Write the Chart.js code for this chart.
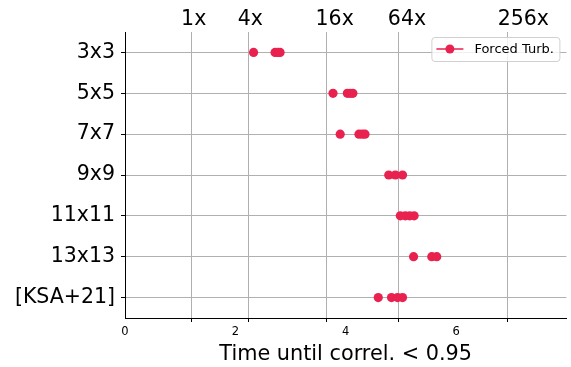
<!DOCTYPE html>
<html>
<head>
<meta charset="utf-8">
<script src="https://cdn.jsdelivr.net/npm/chart.js@4.4.1/dist/chart.umd.min.js"></script>
<style>
  html, body { margin: 0; padding: 0; background: #fff; }
  #wrap { width: 571px; height: 367px; position: relative; }
</style>
</head>
<body>
<div id="wrap"><canvas id="chart"></canvas></div>
<script>
// Row labels (top to bottom)
const rowLabels = ["3x3", "5x5", "7x7", "9x9", "11x11", "13x13", "[KSA+21]"];

// Time until correl. < 0.95, one array per row
const times3x3 = [2.33, 2.72, 2.77, 2.81];
const times5x5 = [3.77, 4.03, 4.08, 4.13];
const times7x7 = [3.90, 4.24, 4.30, 4.35];
const times9x9 = [4.78, 4.90, 5.03];
const times11x11 = [4.99, 5.08, 5.16, 5.24];
const times13x13 = [5.23, 5.56, 5.65];
const timesKSA = [4.59, 4.83, 4.94, 5.03];

// Bottom axis labelled ticks, minor ticks (with gridlines), top axis labels
const bottomTicks = [0, 2, 4, 6];
const gridTicks = [1.2, 2.23, 3.66, 4.96, 6.94];
const topTickValues = [1.245, 2.27, 3.80, 5.11, 7.22];
const topTickLabels = ["1x", "4x", "16x", "64x", "256x"];

const seriesLabel = "Forced Turb.";
const red = "#e8214f";
const gridGray = "#b0b0b0";
const font = "'DejaVu Sans', sans-serif";

const allRows = [times3x3, times5x5, times7x7, times9x9, times11x11, times13x13, timesKSA];
const points = [];
allRows.forEach(function (vals, i) {
  vals.forEach(function (v) {
    points.push({ x: v, y: rowLabels[i] });
  });
});

function isMajor(c) {
  return c.tick && bottomTicks.indexOf(c.tick.value) >= 0;
}

// Legend box drawn inside the plot, top right
const insideLegend = {
  id: "insideLegend",
  afterDraw: function (chart) {
    const ctx = chart.ctx;
    const area = chart.chartArea;
    const ds = chart.data.datasets[0];
    const w = 128, h = 24;
    const x = area.right - 7 - w;
    const y = area.top + 5;
    ctx.save();
    ctx.fillStyle = "rgba(255,255,255,0.8)";
    ctx.strokeStyle = "#d0d0d0";
    ctx.lineWidth = 1;
    ctx.beginPath();
    ctx.roundRect(x + 0.5, y + 0.5, w, h, 3);
    ctx.fill();
    ctx.stroke();
    const cy = y + h / 2;
    ctx.strokeStyle = red;
    ctx.lineWidth = 1.5;
    ctx.beginPath();
    ctx.moveTo(x + 5, cy);
    ctx.lineTo(x + 32, cy);
    ctx.stroke();
    ctx.fillStyle = red;
    ctx.beginPath();
    ctx.arc(x + 18.5, cy, 4.5, 0, Math.PI * 2);
    ctx.fill();
    ctx.fillStyle = "#000";
    ctx.font = "13px " + font;
    ctx.textBaseline = "middle";
    ctx.fillText(ds.label, x + 43, cy + 0.5);
    ctx.restore();
  },
};

const ctx = document.getElementById("chart").getContext("2d");
new Chart(ctx, {
  type: "scatter",
  data: {
    datasets: [
      {
        label: seriesLabel,
        data: points,
        backgroundColor: red,
        borderColor: red,
        pointRadius: 4.6,
        pointBorderWidth: 0,
        pointHoverRadius: 4.6,
      },
    ],
  },
  options: {
    responsive: true,
    maintainAspectRatio: false,
    animation: false,
    layout: { padding: { right: 4, left: 0, top: 0, bottom: 0 } },
    plugins: {
      legend: { display: false },
      tooltip: { enabled: false },
    },
    scales: {
      x: {
        type: "linear",
        position: "bottom",
        min: 0,
        max: 8,
        afterBuildTicks: function (scale) {
          scale.ticks = bottomTicks.concat(gridTicks).map(function (v) {
            return { value: v };
          });
        },
        afterFit: function (scale) {
          scale.height = 49;
        },
        ticks: {
          autoSkip: false,
          maxRotation: 0,
          color: "#000",
          padding: 3,
          font: { family: font, size: 11.5 },
          callback: function (value) {
            return bottomTicks.indexOf(value) >= 0 ? String(value) : "";
          },
        },
        grid: {
          lineWidth: 1,
          tickLength: 4,
          color: function (c) {
            return isMajor(c) ? "rgba(0,0,0,0)" : gridGray;
          },
          tickColor: function (c) {
            return isMajor(c) ? "rgba(0,0,0,0)" : "#000";
          },
        },
        border: { color: "#000", width: 1, z: 1 },
        title: {
          display: true,
          text: "Time until correl. < 0.95",
          color: "#000",
          font: { family: font, size: 20.8 },
          padding: { top: 0, bottom: 0 },
        },
      },
      xTop: {
        type: "linear",
        position: "top",
        min: 0,
        max: 8,
        afterBuildTicks: function (scale) {
          scale.ticks = topTickValues.map(function (v) {
            return { value: v };
          });
        },
        afterFit: function (scale) {
          scale.height = 32;
        },
        ticks: {
          autoSkip: false,
          maxRotation: 0,
          color: "#000",
          padding: 0,
          font: { family: font, size: 20.5 },
          callback: function (value, index) {
            return topTickLabels[index];
          },
        },
        grid: { display: false, drawTicks: false },
        border: { display: false },
      },
      y: {
        type: "category",
        labels: rowLabels,
        offset: true,
        afterFit: function (scale) {
          scale.width = 125;
        },
        ticks: {
          color: "#000",
          padding: 6,
          font: { family: font, size: 20.5 },
        },
        grid: {
          offset: false,
          color: gridGray,
          lineWidth: 1,
          tickLength: 4,
          tickColor: "#000",
        },
        border: { color: "#000", width: 1, z: 1 },
      },
    },
  },
  plugins: [insideLegend],
});
</script>
</body>
</html>
